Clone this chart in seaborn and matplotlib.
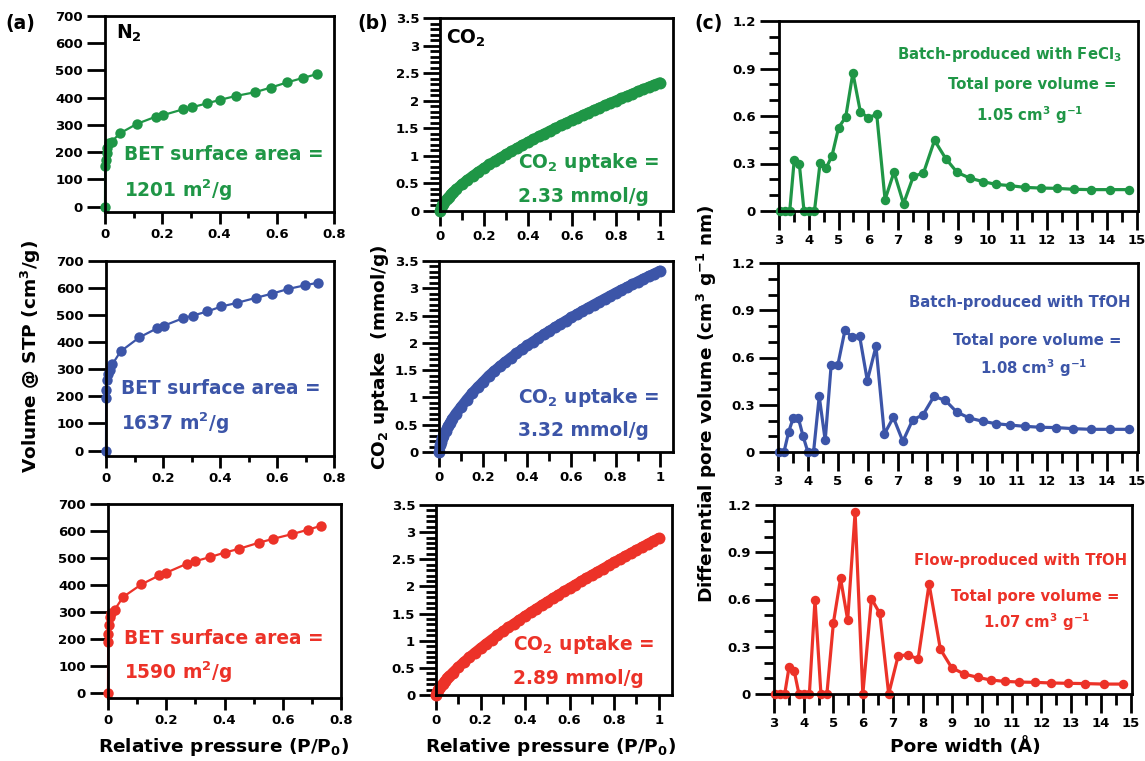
import matplotlib
matplotlib.use("Agg")
import matplotlib.pyplot as plt
import seaborn as sns
from matplotlib.ticker import MultipleLocator, FuncFormatter

# ---------------- data ----------------
# (a) N2 isotherms
n2_p_green = [0, 0.0005, 0.002, 0.006, 0.008, 0.014, 0.023, 0.052, 0.112, 0.177, 0.203, 0.272, 0.305,
              0.356, 0.402, 0.456, 0.524, 0.579, 0.636, 0.693, 0.739]
n2_v_green = [0, 150, 171, 195, 214, 232, 238, 269, 304, 330, 336, 357, 365, 379, 392, 406, 420, 437,
              456, 473, 486]
n2_p_blue = [0, 0.0005, 0.001, 0.002, 0.008, 0.014, 0.022, 0.051, 0.117, 0.178, 0.203, 0.271, 0.304,
             0.356, 0.405, 0.458, 0.526, 0.581, 0.640, 0.697, 0.744]
n2_v_blue = [0, 195, 225, 260, 281, 297, 318, 366, 418, 451, 461, 489, 498, 514, 532, 545, 564, 579,
             597, 610, 620]
n2_p_red = [0, 0.0005, 0.001, 0.002, 0.006, 0.011, 0.023, 0.052, 0.115, 0.176, 0.2, 0.27, 0.298,
            0.35, 0.402, 0.451, 0.517, 0.568, 0.631, 0.685, 0.731]
n2_v_red = [0, 189, 217, 250, 279, 296, 308, 355, 402, 435, 445, 478, 487, 503, 520, 534, 556, 571,
            588, 604, 619]

# (b) CO2 isotherms
co2_p = [0, 0.005, 0.01, 0.015, 0.02, 0.03, 0.04, 0.05, 0.06, 0.075, 0.1, 0.125, 0.15, 0.175, 0.2,
         0.225, 0.25, 0.275, 0.3, 0.325, 0.35, 0.375, 0.4, 0.425, 0.45, 0.475, 0.5, 0.525, 0.55,
         0.575, 0.6, 0.625, 0.65, 0.675, 0.7, 0.725, 0.75, 0.775, 0.8, 0.825, 0.85, 0.875, 0.9,
         0.925, 0.95, 0.975, 1.0]
co2_green = [0, 0.063, 0.102, 0.134, 0.163, 0.215, 0.261, 0.304, 0.344, 0.400, 0.487, 0.567, 0.641,
             0.712, 0.780, 0.844, 0.908, 0.968, 1.027, 1.085, 1.141, 1.196, 1.250, 1.302, 1.354,
             1.405, 1.455, 1.504, 1.551, 1.600, 1.647, 1.692, 1.738, 1.784, 1.827, 1.872, 1.915,
             1.960, 2.001, 2.044, 2.085, 2.127, 2.170, 2.210, 2.250, 2.291, 2.330]
co2_blue = [0, 0.12, 0.19, 0.25, 0.30, 0.39, 0.47, 0.54, 0.61, 0.70, 0.83, 0.96, 1.08, 1.19, 1.29,
            1.398, 1.486, 1.570, 1.652, 1.730, 1.806, 1.879, 1.952, 2.022, 2.090, 2.155, 2.221,
            2.284, 2.347, 2.408, 2.469, 2.527, 2.586, 2.643, 2.699, 2.754, 2.809, 2.863, 2.918,
            2.971, 3.019, 3.071, 3.123, 3.174, 3.222, 3.270, 3.320]
co2_red = [0, 0.054, 0.091, 0.124, 0.154, 0.208, 0.258, 0.305, 0.350, 0.414, 0.514, 0.608, 0.696,
           0.782, 0.864, 0.944, 1.022, 1.098, 1.172, 1.244, 1.314, 1.384, 1.454, 1.521, 1.588,
           1.654, 1.718, 1.783, 1.845, 1.908, 1.970, 2.030, 2.092, 2.152, 2.211, 2.269, 2.328,
           2.387, 2.446, 2.502, 2.558, 2.615, 2.670, 2.724, 2.782, 2.836, 2.890]

# (c) pore size distributions
pore_w = [3.04, 3.2, 3.36, 3.51, 3.68, 3.84, 4.0, 4.19, 4.38, 4.58, 4.78, 5.0, 5.24, 5.48, 5.73,
          5.99, 6.28, 6.56, 6.86, 7.18, 7.51, 7.85, 8.22, 8.6, 8.98, 9.4, 9.85, 10.29, 10.77, 11.26,
          11.78, 12.32, 12.89, 13.48, 14.1, 14.76]
psd_green = [0, 0, 0, 0.32, 0.30, 0, 0, 0, 0.305, 0.27, 0.35, 0.526, 0.594, 0.872, 0.627, 0.589,
             0.61, 0.072, 0.246, 0.046, 0.219, 0.24, 0.446, 0.33, 0.244, 0.208, 0.185, 0.168, 0.16,
             0.149, 0.145, 0.143, 0.137, 0.135, 0.135, 0.135]
psd_blue = [0, 0, 0.13, 0.216, 0.216, 0.10, 0, 0, 0.353, 0.074, 0.554, 0.55, 0.772, 0.73, 0.738,
            0.453, 0.671, 0.114, 0.22, 0.068, 0.205, 0.235, 0.353, 0.328, 0.254, 0.216, 0.195, 0.18,
            0.171, 0.163, 0.157, 0.155, 0.148, 0.144, 0.144, 0.144]
psd_red = [0, 0, 0, 0.174, 0.146, 0, 0, 0, 0.597, 0, 0, 0.453, 0.734, 0.47, 1.153, 0, 0.605, 0.512,
           0, 0.243, 0.248, 0.222, 0.698, 0.284, 0.167, 0.127, 0.106, 0.089, 0.08, 0.076, 0.074,
           0.07, 0.068, 0.066, 0.063, 0.063]

# tick labels
a_xticks = [0, 0.2, 0.4, 0.6, 0.8]
a_yticks = [0, 100, 200, 300, 400, 500, 600, 700]
b_xticks = [0, 0.2, 0.4, 0.6, 0.8, 1.0]
b_yticks = [0, 0.5, 1, 1.5, 2, 2.5, 3, 3.5]
c_xticks = list(range(3, 16))
c_yticks = [0, 0.3, 0.6, 0.9, 1.2]

bet_text = ["1201 m$^2$/g", "1637 m$^2$/g", "1590 m$^2$/g"]
co2_text = ["2.33 mmol/g", "3.32 mmol/g", "2.89 mmol/g"]
psd_title = ["Batch-produced with FeCl$_3$", "Batch-produced with TfOH", "Flow-produced with TfOH"]
psd_vol = ["1.05 cm$^3$ g$^{-1}$", "1.08 cm$^3$ g$^{-1}$", "1.07 cm$^3$ g$^{-1}$"]

GREEN, BLUE, RED = "#1f9646", "#3c55a8", "#ec3228"
colors = [GREEN, BLUE, RED]

# ---------------- style ----------------
sns.set_theme(style="ticks")
plt.rcParams["font.family"] = ["DejaVu Sans"]
plt.rcParams["font.weight"] = "bold"
plt.rcParams["mathtext.fontset"] = "dejavusans"
plt.rcParams["mathtext.default"] = "bf"
plt.rcParams["axes.linewidth"] = 2
for k in ["text.color", "axes.labelcolor", "xtick.color", "ytick.color", "axes.edgecolor"]:
    plt.rcParams[k] = "black"

W, H = 1145, 761
fig = plt.figure(figsize=(W / 100, H / 100), dpi=100)


def rect(L, R, T, B):
    return [L / W, 1 - B / H, (R - L) / W, (B - T) / H]


def ftext(x, y, s, **kw):
    fig.text(x / W, 1 - y / H, s, **kw)


fmt = FuncFormatter(lambda v, p: f"{v:g}")


def style(ax, xlim, ylim, xt, yt, xminor, yminor, xlen, xmlen, ylen, ymlen):
    ax.set_xlim(*xlim)
    ax.set_ylim(*ylim)
    ax.set_xticks(xt)
    ax.set_yticks(yt)
    if xminor:
        ax.xaxis.set_minor_locator(MultipleLocator(xminor))
    if yminor:
        ax.yaxis.set_minor_locator(MultipleLocator(yminor))
    ax.xaxis.set_major_formatter(fmt)
    ax.yaxis.set_major_formatter(fmt)
    for s in ax.spines.values():
        s.set_linewidth(2)
        s.set_color("black")
        s.set_visible(True)
    ax.tick_params(axis="x", which="major", direction="out", length=xlen, width=2,
                   labelsize=9.5, pad=3, color="black", labelcolor="black")
    ax.tick_params(axis="y", which="major", direction="out", length=ylen, width=2,
                   labelsize=9.5, pad=3, color="black", labelcolor="black")
    ax.tick_params(axis="x", which="minor", direction="out", length=xmlen, width=2, color="black")
    ax.tick_params(axis="y", which="minor", direction="out", length=ymlen, width=2, color="black")
    ax.set_xlabel("")
    ax.set_ylabel("")
    ax.grid(False)


a_rects = [(105, 334, 16, 212), (106, 334, 261, 456), (108, 341, 504, 698)]
b_rects = [(440, 673, 18, 211), (439, 673, 261, 452), (436, 672, 505, 695)]
c_rects = [(779, 1138, 21, 211), (778, 1138, 263, 452), (774, 1132, 505, 694)]

n2_data = [(n2_p_green, n2_v_green), (n2_p_blue, n2_v_blue), (n2_p_red, n2_v_red)]
co2_data = [co2_green, co2_blue, co2_red]
psd_data = [psd_green, psd_blue, psd_red]

# panel (a)
for i, (r, (p, v)) in enumerate(zip(a_rects, n2_data)):
    ax = fig.add_axes(rect(*r))
    sns.lineplot(x=p, y=v, ax=ax, color=colors[i], marker="o", markersize=7.5,
                 markeredgewidth=0, linewidth=1.6, sort=False, estimator=None, clip_on=False)
    style(ax, (0, 0.8), (-20, 700), a_xticks, a_yticks, 0.1, None, 8.5, 4, 13, 6)

# panel (b): dense markers forming a thick band
for i, (r, y) in enumerate(zip(b_rects, co2_data)):
    ax = fig.add_axes(rect(*r))
    sns.lineplot(x=co2_p, y=y, ax=ax, color=colors[i], marker="o", markersize=8.6,
                 markeredgewidth=0, linewidth=7.4, sort=False, estimator=None, clip_on=False,
                 solid_capstyle="round")
    style(ax, (0, 1.06), (0, 3.5), b_xticks, b_yticks, 0.1, 0.1, 11, 6.5, 12, 7)

# panel (c)
for i, (r, y) in enumerate(zip(c_rects, psd_data)):
    ax = fig.add_axes(rect(*r))
    sns.lineplot(x=pore_w, y=y, ax=ax, color=colors[i], marker="o", markersize=6.8,
                 markeredgewidth=0, linewidth=2.3, sort=False, estimator=None, clip_on=False)
    style(ax, (3, 15.05), (0, 1.2), c_xticks, c_yticks, 0.5, 0.1, 13.5, 8, 13.5, 7)

# annotations (a)
a_line1 = [155, 388, 638]
a_line2 = [190, 423, 672]
a_left = [124, 121, 124]
for i in range(3):
    ftext(a_left[i], a_line1[i], "BET surface area =", color=colors[i], fontsize=13.4,
          ha="left", va="center")
    ftext(a_left[i], a_line2[i], bet_text[i], color=colors[i], fontsize=13.4,
          ha="left", va="center")

# annotations (b)
b_line1 = [163, 397, 644]
b_line2 = [197, 430, 678]
b_left = [518, 518, 513]
for i in range(3):
    ftext(b_left[i], b_line1[i], "CO$_2$ uptake =", color=colors[i], fontsize=13.4,
          ha="left", va="center")
    ftext(b_left[i], b_line2[i], co2_text[i], color=colors[i], fontsize=13.4,
          ha="left", va="center")

# annotations (c)
c_t = [(1009, 55), (1020, 303), (1021, 561)]
c_v1 = [(1032, 85), (1037, 341), (1035, 596)]
c_v2 = [(1030, 115), (1034, 368), (1037, 622)]
for i in range(3):
    ftext(*c_t[i], psd_title[i], color=colors[i], fontsize=10.7, ha="center", va="center")
    ftext(*c_v1[i], "Total pore volume =", color=colors[i], fontsize=10.7, ha="center", va="center")
    ftext(*c_v2[i], psd_vol[i], color=colors[i], fontsize=10.7, ha="center", va="center")

# gas labels
ftext(116, 33, "N$_2$", fontsize=13.5, color="black", ha="left", va="center")
ftext(446, 38, "CO$_2$", fontsize=13.5, color="black", ha="left", va="center")

# panel letters
ftext(5, 23, "(a)", fontsize=13.5, color="black", ha="left", va="center")
ftext(357, 23, "(b)", fontsize=13.5, color="black", ha="left", va="center")
ftext(694, 23, "(c)", fontsize=13.5, color="black", ha="left", va="center")

# axis labels
ftext(31, 357, "Volume @ STP (cm$^3$/g)", fontsize=13.3, rotation=90, ha="center", va="center")
ftext(223, 747, "Relative pressure (P/P$_0$)", fontsize=13.3, ha="center", va="center")
ftext(380, 357, "CO$_2$ uptake  (mmol/g)", fontsize=13.3, rotation=90, ha="center", va="center")
ftext(550, 747, "Relative pressure (P/P$_0$)", fontsize=13.3, ha="center", va="center")
ftext(707, 404, "Differential pore volume (cm$^3$ g$^{-1}$ nm)", fontsize=13.3, rotation=90,
      ha="center", va="center")
ftext(965, 747, "Pore width (Å)", fontsize=13.3, ha="center", va="center")

fig.savefig("out.png", dpi=100)
